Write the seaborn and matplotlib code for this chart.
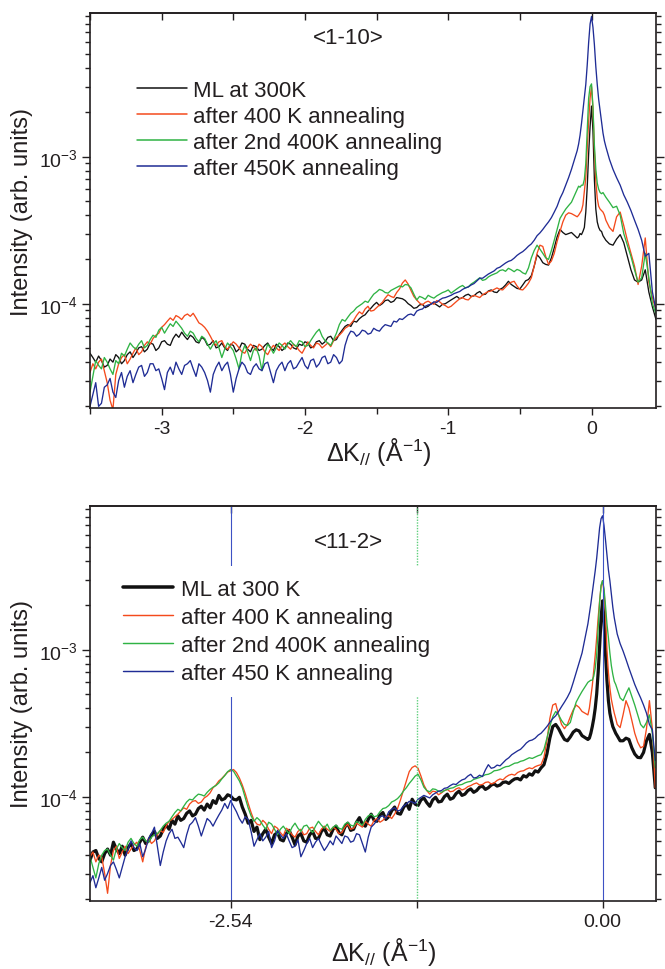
import numpy as np
import pandas as pd
import matplotlib
matplotlib.use("Agg")
import matplotlib.pyplot as plt
from matplotlib.ticker import NullFormatter, FixedLocator, NullLocator, LogFormatterSciNotation
from matplotlib.lines import Line2D
import seaborn as sns

# ---------------------------------------------------------------- data
SCALE = 1e-5  # intensities are listed in units of 1e-5 (arb. units)

# momentum-transfer grids (1/Angstrom): wide scan, fine scan over the specular peak, tail
k_110 = np.round(np.concatenate([np.linspace(-3.50, -0.14, 169),
                                 np.linspace(-0.10, 0.09, 20),
                                 np.linspace(0.10, 0.45, 15)]), 3)
k_112 = np.round(np.concatenate([np.linspace(-3.50, -0.14, 169),
                                 np.linspace(-0.10, 0.09, 20),
                                 np.linspace(0.10, 0.36, 14)]), 3)

# <1-10> azimuth
i110_ml300 = [
    4.6, 4.3, 4.0, 4.4, 4.1, 3.7, 3.8, 4.2, 4.0, 4.5,
    4.3, 3.9, 4.1, 4.5, 4.7, 4.3, 4.6, 5.0, 5.1, 4.7,
    4.9, 5.4, 5.3, 4.8, 5.0, 5.5, 5.6, 5.3, 5.2, 5.8,
    6.2, 5.9, 6.4, 6.0, 5.7, 6.1, 5.9, 5.5, 5.4, 5.9,
    5.7, 5.2, 5.3, 5.6, 5.0, 5.1, 5.4, 5.0, 4.8, 5.3,
    5.2, 4.7, 4.9, 5.4, 5.3, 4.9, 4.7, 5.2, 5.1, 4.8,
    4.9, 5.2, 5.4, 5.0, 4.8, 5.3, 5.1, 4.8, 5.0, 5.4,
    5.3, 5.0, 4.9, 5.3, 5.2, 5.5, 5.4, 5.0, 5.1, 5.5,
    5.6, 5.3, 5.5, 5.9, 6.0, 5.6, 5.7, 6.2, 6.6, 7.0,
    7.2, 7.0, 7.6, 7.5, 7.9, 8.2, 8.4, 8.9, 9.3, 9.8,
    10.2, 9.7, 10.0, 10.5, 10.6, 10.2, 10.4, 11.0, 10.9, 10.8,
    10.5, 10.0, 9.7, 9.3, 9.4, 9.8, 9.9, 9.4, 9.6, 10.0,
    10.1, 9.8, 9.5, 9.9, 10.0, 10.3, 10.6, 10.9, 11.2, 10.8,
    11.0, 11.4, 11.6, 11.2, 11.3, 11.8, 12.1, 11.5, 11.6, 12.2,
    12.4, 12.0, 11.9, 12.5, 12.8, 13.4, 14.2, 13.5, 13.1, 12.7,
    12.6, 13.4, 14.3, 14.6, 15.5, 18.0, 21.5, 20.5, 19.0, 18.5,
    18.3, 20.5, 24.0, 28.5, 32.0, 30.5, 29.5, 30.0, 30.5,
    28.0, 28.5, 30.0, 29.5, 31.0, 33.0, 42.0, 62.0, 105, 160,
    221, 150, 70, 44, 36, 33, 31.5, 31.0, 29.0, 28.0,
    27.0, 25.5, 25.0, 27.5, 29.5, 26.0, 21.0, 17.0, 14.5, 14.0,
    14.5, 17.0, 12.0, 9.5, 7.8]
i110_400 = [
    3.4, 3.9, 3.6, 4.0, 4.2, 3.5, 2.9, 2.2, 1.9, 3.3,
    3.9, 4.3, 4.5, 3.9, 4.2, 4.6, 5.0, 4.5, 4.7, 5.2,
    5.5, 5.3, 5.8, 6.1, 6.3, 6.9, 7.2, 7.6, 8.0, 7.7,
    8.3, 8.1, 7.8, 8.3, 8.5, 8.2, 8.6, 8.0, 7.4, 7.2,
    6.9, 6.5, 6.0, 5.5, 5.2, 5.5, 5.6, 5.1, 4.9, 5.2,
    5.5, 5.3, 5.0, 4.7, 4.6, 5.0, 5.3, 5.1, 4.8, 5.3,
    5.1, 4.7, 4.5, 4.9, 5.2, 5.0, 4.8, 5.2, 5.4, 5.1,
    4.9, 5.3, 5.1, 4.8, 4.6, 5.0, 5.5, 5.2, 5.0, 5.4,
    5.3, 5.0, 5.2, 5.4, 5.1, 5.6, 5.9, 6.1, 6.4, 6.8,
    7.0, 7.3, 7.7, 8.3, 8.8, 8.5, 9.2, 9.6, 8.9, 9.0,
    9.4, 9.8, 10.2, 10.9, 11.5, 11.2, 11.0, 11.9, 12.6, 13.8,
    14.5, 13.6, 12.3, 11.2, 10.6, 10.1, 9.8, 10.2, 10.4, 10.1,
    9.9, 10.5, 10.3, 9.9, 9.7, 9.4, 9.6, 10.0, 10.4, 10.8,
    11.0, 10.7, 10.6, 11.1, 11.4, 11.2, 11.0, 11.5, 11.8, 12.1,
    12.2, 12.5, 12.8, 12.5, 12.4, 13.0, 13.6, 14.0, 14.2, 13.2,
    12.5, 12.4, 13.0, 13.8, 15.0, 18.0, 22.0, 25.0, 24.5, 21.0,
    18.5, 19.5, 22.0, 26.5, 31.0, 36.0, 40.0, 41.5, 41.0,
    39, 40, 41.5, 43, 47, 58, 72, 115, 175, 250,
    300, 210, 110, 68, 52, 46, 44, 43, 42, 40,
    37, 33, 31, 39, 42, 34, 27, 22, 18, 13.5,
    18, 28, 14, 11, 9.0]
i110_400b = [
    2.5, 3.2, 4.1, 3.8, 3.6, 4.3, 4.0, 3.6, 3.3, 4.1,
    3.9, 4.6, 4.4, 4.9, 5.4, 5.1, 4.9, 5.3, 5.6, 5.0,
    5.2, 5.7, 6.1, 5.9, 6.6, 6.9, 6.3, 6.8, 7.3, 7.0,
    7.6, 7.2, 6.8, 6.3, 6.0, 6.5, 6.3, 5.8, 5.5, 6.0,
    5.8, 5.3, 4.9, 5.3, 5.6, 5.0, 4.3, 4.9, 5.4, 5.1,
    4.8, 4.2, 3.6, 4.6, 5.2, 4.7, 4.1, 4.8, 5.0, 4.4,
    3.5, 4.6, 5.3, 5.0, 4.6, 5.0, 5.4, 5.2, 4.9, 5.3,
    5.6, 5.3, 5.1, 5.6, 5.5, 5.1, 5.2, 5.6, 6.0, 6.4,
    6.7, 6.0, 5.6, 5.4, 5.2, 5.7, 6.3, 7.2, 7.8, 7.6,
    8.1, 8.6, 8.9, 9.4, 9.7, 10.0, 10.4, 10.2, 10.9, 11.6,
    12.0, 12.5, 12.3, 11.9, 11.8, 12.3, 12.6, 12.9, 13.2, 13.0,
    13.5, 13.4, 12.8, 11.6, 10.6, 11.2, 11.0, 10.7, 11.4, 11.1,
    10.9, 11.3, 11.6, 11.9, 12.1, 12.4, 11.8, 12.2, 12.6, 13.0,
    13.3, 12.8, 13.0, 13.6, 14.0, 14.5, 15.0, 14.4, 14.6, 15.2,
    15.6, 15.9, 16.2, 16.8, 17.0, 16.6, 17.4, 17.0, 16.5, 17.1,
    16.8, 16.2, 15.9, 17.5, 20.5, 23.0, 25.0, 23.5, 22.0, 20.5,
    20.0, 23.0, 27.0, 32.0, 38.0, 41.0, 44.0, 46.5, 49.0,
    60, 63, 62, 64, 64, 70, 90, 150, 250, 300,
    313, 220, 120, 82, 66, 60, 57, 56, 57, 55,
    53, 49, 45, 46, 40, 30, 25, 21, 17, 14,
    15, 22, 15, 10, 8.5]
i110_450 = [
    2.0, 2.4, 2.9, 2.0, 2.1, 2.7, 2.8, 3.1, 2.5, 2.3,
    3.0, 3.4, 2.7, 3.2, 3.5, 2.9, 3.3, 3.7, 3.8, 3.2,
    3.4, 3.9, 3.9, 3.5, 3.6, 3.1, 2.6, 3.4, 3.7, 3.3,
    4.0, 3.6, 3.3, 3.8, 3.9, 4.1, 3.6, 3.2, 3.9, 3.7,
    3.4, 3.0, 2.5, 3.3, 3.7, 4.0, 3.5, 3.8, 4.0, 3.3,
    2.5, 3.1, 3.6, 4.0, 3.8, 3.4, 3.3, 3.7, 3.9, 3.6,
    3.5, 3.9, 4.0, 3.4, 2.9, 3.5, 3.8, 4.0, 3.5, 3.9,
    4.1, 3.6, 3.7, 4.0, 4.3, 3.8, 3.6, 4.1, 4.2, 3.7,
    3.9, 4.3, 4.4, 3.9, 4.0, 4.5, 4.3, 3.9, 4.1, 5.2,
    6.0, 6.5, 6.4, 6.0, 6.2, 6.6, 6.5, 6.2, 6.3, 6.8,
    6.6, 6.5, 6.9, 7.2, 7.1, 7.0, 7.6, 7.5, 7.9, 7.8,
    8.1, 8.4, 8.5, 8.3, 8.9, 9.1, 9.2, 9.6, 9.8, 9.9,
    10.3, 10.2, 10.6, 10.9, 11.0, 11.2, 11.4, 11.7, 11.9, 12.1,
    12.5, 12.8, 13.0, 13.4, 13.7, 14.3, 14.9, 14.9, 15.4, 15.9,
    16.3, 16.7, 17.4, 17.7, 18.3, 18.9, 19.4, 19.7, 20.4, 21.3,
    22.0, 22.6, 23.5, 24.6, 25.5, 27.0, 29.0, 30.3, 32.0, 34.0,
    36.0, 38.5, 42.0, 46.0, 52.0, 57.0, 64.0, 72.0, 82.0,
    110, 122, 140, 168, 205, 250, 310, 420, 600, 800,
    900, 760, 580, 410, 310, 245, 205, 170, 145, 128,
    117, 96, 82, 72, 64, 55, 49, 43, 37, 32,
    27, 21, 22, 12, 9]

# <11-2> azimuth
i112_ml300 = [
    3.7, 4.2, 4.3, 3.8, 3.6, 4.1, 4.4, 4.0, 4.9, 4.4,
    4.1, 4.6, 4.0, 4.5, 4.8, 4.3, 4.4, 4.9, 5.3, 4.8,
    5.0, 5.5, 5.8, 5.2, 5.4, 6.0, 6.4, 6.0, 6.9, 6.5,
    7.4, 6.9, 7.1, 7.7, 8.0, 7.4, 7.6, 8.3, 8.6, 8.1,
    8.9, 8.4, 9.4, 9.0, 10.2, 9.5, 9.7, 10.3, 10.1, 9.6,
    9.5, 9.9, 8.5, 7.6, 6.6, 6.9, 5.8, 6.2, 5.1, 5.6,
    6.0, 5.3, 4.8, 5.5, 5.7, 5.1, 5.0, 5.6, 5.9, 5.3,
    4.7, 5.4, 5.6, 5.0, 4.9, 5.5, 5.8, 5.2, 5.2, 5.8,
    6.1, 5.5, 5.4, 6.0, 6.3, 5.7, 5.5, 6.2, 6.6, 5.9,
    6.0, 6.7, 7.2, 6.5, 6.3, 7.0, 7.6, 6.9, 6.8, 7.5,
    7.8, 7.0, 7.3, 8.0, 8.5, 7.7, 7.6, 8.4, 9.0, 8.2,
    9.6, 8.9, 8.7, 9.5, 9.8, 9.1, 8.6, 9.5, 9.9, 9.2,
    9.3, 10.0, 10.4, 9.6, 9.8, 10.5, 10.9, 10.2, 10.4, 11.0,
    11.3, 10.7, 11.0, 11.6, 11.8, 11.2, 11.5, 12.0, 12.2, 11.8,
    12.0, 12.5, 12.6, 12.3, 12.8, 13.2, 13.3, 13.0, 13.9, 13.6,
    14.3, 14.0, 15.0, 14.7, 15.7, 16.5, 19.5, 25.0, 30.0, 31.0,
    29.0, 26.5, 24.5, 24.0, 25.5, 27.5, 28.5, 28.0, 26.0,
    24.5, 25.0, 27.0, 30.0, 34.0, 40.0, 50.0, 70.0, 105, 165,
    215, 160, 95, 62, 45, 37, 33, 30, 28.5, 27,
    26, 24, 24, 25, 24.5, 21.5, 19.5, 18.5, 18.4, 20,
    24, 26.5, 20, 11.5]
i112_400 = [
    3.9, 4.2, 3.6, 4.0, 3.9, 3.0, 2.2, 3.4, 4.3, 4.6,
    3.8, 4.2, 4.6, 4.1, 4.4, 4.7, 4.9, 4.3, 3.6, 4.5,
    5.2, 4.8, 5.0, 5.5, 5.9, 5.7, 6.3, 6.8, 7.0, 7.3,
    7.6, 8.0, 8.4, 8.2, 8.9, 9.3, 9.4, 9.0, 9.2, 9.8,
    10.1, 10.6, 11.5, 12.0, 12.8, 13.3, 14.0, 14.7, 15.0, 15.3,
    14.6, 13.4, 12.0, 10.5, 9.0, 7.8, 6.9, 6.5, 6.4, 6.9,
    6.6, 6.0, 5.6, 6.3, 6.1, 5.7, 5.4, 6.1, 5.9, 5.5,
    5.3, 5.8, 6.0, 5.5, 5.6, 6.1, 6.2, 5.8, 5.5, 6.0,
    6.3, 6.0, 5.8, 6.2, 6.0, 5.6, 5.7, 6.2, 6.5, 6.0,
    6.1, 6.6, 6.4, 6.2, 6.8, 6.5, 6.3, 6.9, 7.1, 6.7,
    6.9, 7.3, 7.4, 7.1, 7.6, 8.3, 9.5, 11.0, 12.8, 14.8,
    15.8, 16.2, 15.6, 13.8, 12.0, 11.0, 10.4, 10.9, 10.8, 10.3,
    10.6, 11.0, 11.2, 10.8, 10.9, 11.3, 11.5, 11.1, 11.3, 11.7,
    11.9, 12.2, 12.4, 12.0, 12.1, 12.5, 12.6, 12.2, 12.4, 12.9,
    13.2, 13.0, 13.6, 14.0, 14.2, 14.0, 14.6, 14.9, 15.0, 15.4,
    15.7, 15.5, 16.0, 16.3, 16.5, 18.5, 24.0, 34.0, 42.0, 43.0,
    36.0, 31.0, 29.0, 31.0, 35.0, 39.0, 42.0, 40.5, 38.0,
    36, 40, 48, 57, 72, 92, 121, 165, 215, 270,
    295, 250, 180, 100, 70, 55, 46, 41, 37, 34,
    31, 29.5, 36, 45, 40, 33, 27, 23.5, 21.5, 22,
    29, 45, 29, 11.5]
i112_400b = [
    3.9, 3.3, 2.8, 3.5, 4.0, 4.3, 4.4, 4.0, 3.7, 4.4,
    4.8, 4.5, 4.3, 4.9, 5.2, 4.8, 4.6, 5.1, 5.3, 5.0,
    4.9, 5.3, 5.5, 5.6, 5.9, 6.3, 6.6, 6.8, 7.3, 7.8,
    8.2, 8.0, 8.6, 9.2, 9.6, 9.5, 10.0, 10.4, 10.3, 10.1,
    10.7, 11.2, 11.6, 11.9, 12.4, 13.2, 13.9, 14.8, 15.3, 14.9,
    13.8, 12.8, 11.5, 9.8, 8.4, 7.4, 6.8, 7.2, 6.9, 6.4,
    6.0, 6.7, 6.5, 6.0, 5.5, 6.0, 6.3, 5.9, 5.6, 6.2,
    6.6, 6.1, 5.8, 6.3, 6.4, 6.0, 5.7, 6.3, 6.8, 6.4,
    6.1, 6.5, 5.9, 6.2, 6.4, 6.1, 6.0, 6.5, 6.7, 6.4,
    6.3, 6.8, 6.6, 6.4, 7.0, 7.4, 7.6, 7.3, 7.4, 7.9,
    8.3, 8.4, 8.7, 9.2, 9.4, 9.7, 10.2, 10.9, 11.5, 12.3,
    13.0, 13.8, 14.2, 13.0, 11.6, 11.0, 10.8, 11.3, 11.2, 10.9,
    10.7, 11.0, 11.2, 11.4, 11.5, 11.8, 12.0, 12.1, 12.4, 12.6,
    12.7, 13.1, 13.3, 13.5, 13.8, 14.1, 14.2, 14.5, 15.0, 15.1,
    15.3, 15.7, 16.0, 16.1, 16.5, 16.9, 17.0, 17.4, 17.6, 18.0,
    18.4, 18.2, 18.6, 19.0, 19.3, 21.0, 25.0, 30.0, 35.0, 38.0,
    36.0, 33.0, 31.0, 30.5, 32.0, 38.0, 44.0, 48.0, 52.0,
    60, 61, 62, 62, 66, 75, 93, 140, 210, 275,
    295, 260, 200, 150, 121, 95, 78, 68, 61, 58,
    54, 47, 45, 50, 55, 48, 42, 36, 31, 29.4,
    32, 36, 27, 15.7]
i112_450 = [
    2.6, 2.9, 2.4, 2.8, 3.3, 2.7, 3.0, 3.4, 3.6, 3.2,
    2.8, 3.3, 3.9, 4.4, 5.0, 4.5, 4.3, 4.8, 3.9, 4.4,
    5.2, 5.6, 6.2, 4.6, 3.4, 4.2, 5.0, 5.6, 6.0, 5.2,
    5.3, 4.9, 4.5, 5.5, 6.4, 6.7, 7.2, 6.3, 5.4, 6.2,
    7.1, 6.8, 6.3, 6.9, 7.5, 8.1, 9.0, 8.3, 9.4, 8.6,
    7.9, 7.1, 6.6, 7.3, 7.0, 5.8, 4.6, 5.1, 5.6, 5.0,
    5.3, 5.8, 4.5, 5.0, 5.9, 5.5, 5.2, 5.6, 5.0, 4.5,
    4.6, 5.1, 3.9, 4.3, 4.8, 5.2, 4.5, 4.9, 5.2, 4.7,
    4.3, 4.6, 5.0, 4.7, 5.4, 5.1, 4.8, 5.4, 5.3, 4.9,
    5.0, 5.6, 5.5, 4.8, 4.2, 5.3, 6.2, 6.5, 6.9, 7.3,
    7.4, 7.1, 7.9, 8.2, 8.4, 8.0, 8.1, 8.6, 8.9, 9.3,
    9.2, 9.0, 9.6, 9.9, 10.2, 10.0, 9.8, 10.3, 10.6, 10.9,
    11.0, 11.4, 11.5, 11.9, 12.2, 12.1, 12.6, 13.0, 13.2, 13.8,
    14.2, 13.4, 13.5, 14.0, 13.7, 15.2, 16.5, 15.6, 15.8, 16.4,
    16.2, 17.0, 17.8, 18.4, 19.3, 19.9, 20.5, 21.0, 22.0, 23.2,
    24.0, 24.3, 25.0, 26.2, 27.0, 28.4, 30.0, 32.0, 34.0, 35.5,
    38.0, 41.0, 44.0, 47.5, 52.0, 60.0, 70.0, 82.0, 95.0,
    150, 175, 205, 245, 290, 345, 420, 530, 676, 780,
    815, 700, 560, 440, 350, 295, 240, 195, 165, 145,
    128, 110, 98, 86, 75, 66, 58, 52, 47, 42,
    37, 31, 28.5, 17.6]

labels_110 = ["ML at 300K", "after 400 K annealing",
              "after 2nd 400K annealing", "after 450K annealing"]
labels_112 = ["ML at 300 K", "after 400 K annealing",
              "after 2nd 400K annealing", "after 450 K annealing"]

xticks_110 = [-3, -2, -1, 0]
xticklabels_110 = ["-3", "-2", "-1", "0"]
xminor_110 = [-3.5, -2.5, -1.5, -0.5]
xticks_112 = [-2.54, -1.27, 0.00]
xticklabels_112 = ["-2.54", "", "0.00"]

# reciprocal-lattice positions marked in the <11-2> scan
rod_positions = [-2.54, 0.00]
half_order_position = [-1.27]

# log-axis tick positions
y_major = [1e-5, 1e-4, 1e-3, 1e-2]
y_minor = [m * 10.0 ** e for e in (-5, -4, -3) for m in range(2, 10)]

# ---------------------------------------------------------------- style
sns.set_theme(style="ticks")
plt.rcParams["font.family"] = ["Liberation Sans", "DejaVu Sans"]
plt.rcParams["mathtext.fontset"] = "custom"
plt.rcParams["mathtext.rm"] = "Liberation Sans"
plt.rcParams["mathtext.it"] = "Liberation Sans:italic"
plt.rcParams["mathtext.default"] = "regular"
plt.rcParams["axes.unicode_minus"] = False

INK = "#231f20"
COLORS = ["#111111", "#f44a1c", "#2fb344", "#1f2c95"]
VLINE_BLUE = "#3d52c4"
VLINE_GREEN = "#5fcf7c"


def frame_for(k, series, labels):
    parts = [pd.DataFrame({"k": k, "intensity": np.asarray(v, float) * SCALE, "run": lab})
             for v, lab in zip(series, labels)]
    return pd.concat(parts, ignore_index=True)


def style_axes(ax, xlim, xticks, xlabels, xminor):
    ax.set_yscale("log")
    ax.set_xlim(*xlim)
    ax.set_ylim(1.95e-5, 9.5e-3)
    ax.yaxis.set_major_locator(FixedLocator(y_major))
    ax.yaxis.set_major_formatter(LogFormatterSciNotation())
    ax.yaxis.set_minor_locator(FixedLocator(y_minor))
    ax.yaxis.set_minor_formatter(NullFormatter())
    ax.set_xticks(xticks, labels=xlabels)
    ax.xaxis.set_minor_locator(FixedLocator(xminor) if xminor else NullLocator())
    for s in ax.spines.values():
        s.set_visible(True)
        s.set_color(INK)
        s.set_linewidth(1.2)
    ax.xaxis.set_tick_params(which="both", bottom=True, top=False, direction="out",
                             color=INK, width=1.0, labelsize=14, labelcolor=INK, pad=4)
    ax.yaxis.set_tick_params(which="both", left=True, right=True, direction="out",
                             color=INK, width=1.0, labelsize=14, labelcolor=INK, pad=3)
    ax.xaxis.set_tick_params(which="major", length=5)
    ax.xaxis.set_tick_params(which="minor", length=4)
    ax.yaxis.set_tick_params(which="major", length=6)
    ax.yaxis.set_tick_params(which="minor", length=3.5)
    # top edge carries inward ticks at the same positions
    sec = ax.secondary_xaxis("top")
    sec.set_xticks(list(xticks) + list(xminor))
    sec.xaxis.set_minor_locator(NullLocator())
    sec.tick_params(axis="x", direction="in", length=5, width=1.0, colors=INK,
                    labeltop=False, labelbottom=False)
    sec.spines["top"].set_color(INK)
    sec.spines["top"].set_linewidth(1.2)
    ax.set_ylabel("Intensity (arb. units)", fontsize=17, color=INK)
    ax.yaxis.set_label_coords(-0.10, 0.5)
    ax.set_xlabel("ΔK$_{//}$ (Å$^{-1}$)", fontsize=18, color=INK)


fig = plt.figure(figsize=(6.65, 9.7), dpi=100)
W, H = 665.0, 970.0
ax1 = fig.add_axes([90 / W, 1 - 409 / H, 566 / W, 395 / H])
ax2 = fig.add_axes([90 / W, 1 - 902 / H, 566 / W, 395 / H])

# ---------------------------------------------------------------- <1-10>
df110 = frame_for(k_110, [i110_ml300, i110_400, i110_400b, i110_450], labels_110)
for lab, col in zip(labels_110, COLORS):
    sns.lineplot(data=df110[df110["run"] == lab], x="k", y="intensity", color=col,
                 linewidth=0.95, estimator=None, sort=False, ax=ax1, legend=False)
style_axes(ax1, (-3.5, 0.45), xticks_110, xticklabels_110, xminor_110)
ax1.xaxis.set_label_coords(0.51, -0.068)
ax1.text(0.456, 0.939, "<1-10>", transform=ax1.transAxes, ha="center", va="center",
         fontsize=16, color=INK)
h1 = [Line2D([], [], color=c, lw=1.1) for c in COLORS]
ax1.legend(h1, labels_110, loc="upper left", bbox_to_anchor=(0.083, 0.83),
           frameon=False, fontsize=16, handlelength=2.25, handletextpad=0.27,
           labelspacing=0.22, borderpad=0, borderaxespad=0, labelcolor=INK)

# ---------------------------------------------------------------- <11-2>
df112 = frame_for(k_112, [i112_ml300, i112_400, i112_400b, i112_450], labels_112)
widths_112 = [2.3, 0.95, 0.95, 0.95]
for lab, col, lw in zip(labels_112, COLORS, widths_112):
    sns.lineplot(data=df112[df112["run"] == lab], x="k", y="intensity", color=col,
                 linewidth=lw, estimator=None, sort=False, ax=ax2, legend=False)
for xr in rod_positions:
    ax2.axvline(xr, color=VLINE_BLUE, lw=0.8, zorder=2.5)
for xh in half_order_position:
    ax2.axvline(xh, color=VLINE_GREEN, lw=1.0, ls=(0, (1, 1)), zorder=2.5)
style_axes(ax2, (-3.5, 0.365), xticks_112, xticklabels_112, [])
ax2.xaxis.set_label_coords(0.52, -0.085)
ax2.text(0.456, 0.911, "<11-2>", transform=ax2.transAxes, ha="center", va="center",
         fontsize=16, color=INK)
h2 = [Line2D([], [], color=c, lw=lw * 1.1) for c, lw in zip(COLORS, widths_112)]
ax2.legend(h2, labels_112, loc="upper left", bbox_to_anchor=(0.035, 0.848),
           frameon=True, fancybox=False, facecolor="white", edgecolor="none",
           framealpha=1.0, fontsize=16, handlelength=2.25, handletextpad=0.36,
           labelspacing=0.315, borderpad=0.585, borderaxespad=0, labelcolor=INK)

fig.savefig("out.png", dpi=100)
